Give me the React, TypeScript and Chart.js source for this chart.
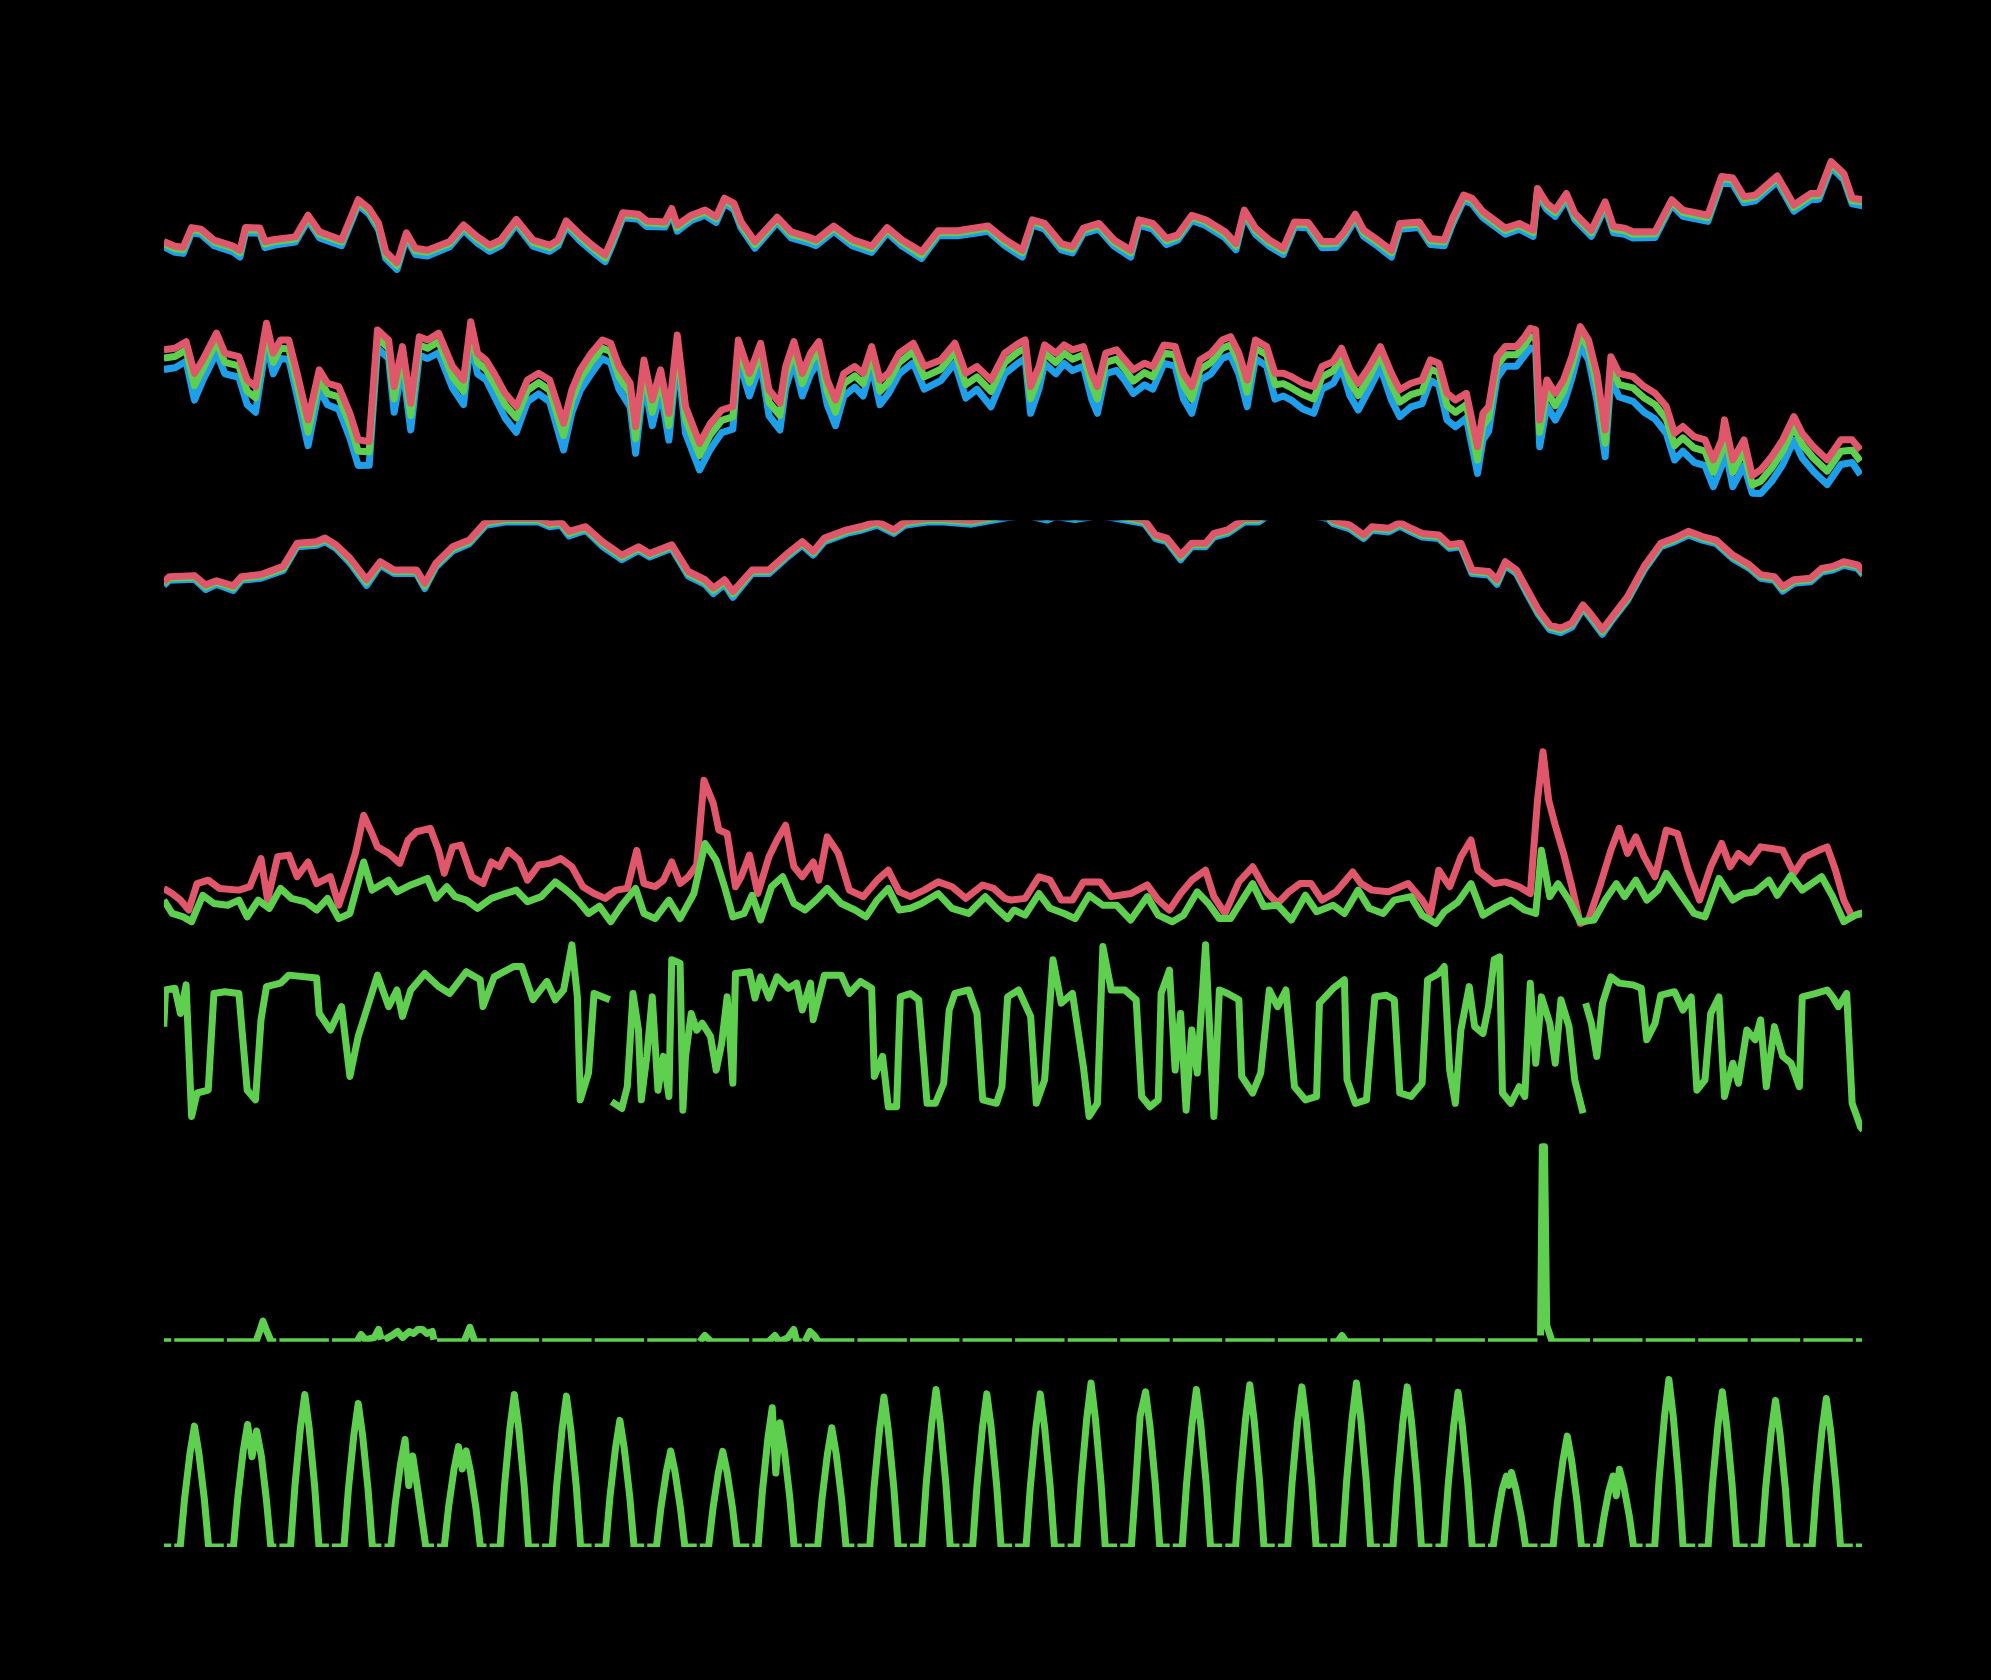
import React, { useEffect, useRef } from 'react';
import { Chart, registerables } from 'chart.js';

Chart.register(...registerables);

// ---------- Temperature (°C): high / average / low ----------
const tempHours = [
  -4.1, 1.0, 4.8, 8.6, 12.9, 18.8, 27.6, 30.7, 33.2, 39.8,
  42.1, 46.6, 56.0, 61.8, 67.0, 77.1, 84.7, 89.7, 94.0, 97.3,
  102.4, 106.7, 110.8, 116.3, 126.5, 132.8, 139.2, 144.7, 149.8, 156.9,
  164.5, 172.1, 176.0, 179.7, 186.1, 192.4, 197.5, 200.5, 205.6, 212.7,
  216.5, 224.8, 227.9, 230.4, 236.8, 243.1, 248.2, 252.0, 256.3, 259.6,
  265.9, 276.0, 282.4, 290.0, 293.8, 301.9, 310.3, 319.2, 326.3, 333.1,
  342.0, 349.6, 358.4, 372.4, 380.0, 388.0, 392.6, 398.2, 405.8, 410.9,
  415.9, 423.0, 429.9, 437.5, 441.3, 447.6, 453.9, 459.0, 465.4, 471.7,
  480.6, 485.6, 489.4, 494.5, 500.8, 507.2, 512.3, 518.6, 524.9, 531.3,
  535.1, 540.1, 543.9, 550.3, 556.6, 560.4, 569.3, 574.4, 580.7, 584.5,
  589.6, 593.4, 598.4, 603.5, 608.6, 614.9, 621.3, 623.3, 627.6, 631.4,
  636.5, 640.3, 647.9, 654.2, 658.0, 663.1, 666.9, 677.0, 684.6, 689.7,
  701.1, 707.4, 712.5, 717.6, 722.7, 732.8, 740.4, 748.0, 751.8, 757.4,
  763.2, 767.0, 772.0,
];
const tempHigh = [
  13.7, 12.8, 12.6, 16.4, 16.1, 14.0, 12.8, 12.0, 16.4, 16.3,
  13.7, 14.1, 14.6, 18.8, 15.6, 14.0, 21.8, 20.1, 17.2, 11.7,
  9.6, 15.4, 12.4, 12.0, 13.7, 16.9, 14.6, 13.0, 14.0, 18.0,
  14.0, 13.0, 14.0, 17.7, 15.0, 12.7, 11.1, 14.0, 19.3, 19.0,
  17.7, 17.5, 20.1, 16.9, 18.8, 19.8, 18.5, 22.1, 21.1, 17.5,
  13.7, 18.4, 15.6, 14.6, 14.0, 16.7, 14.1, 12.8, 16.4, 14.0,
  11.7, 15.8, 15.8, 16.7, 14.1, 12.0, 17.9, 17.2, 13.3, 12.7,
  16.3, 17.2, 14.0, 12.0, 17.9, 17.2, 14.3, 15.0, 18.8, 17.9,
  15.6, 13.3, 19.8, 16.3, 14.0, 12.4, 17.5, 17.4, 13.7, 13.7,
  15.6, 19.0, 15.9, 14.0, 12.0, 17.2, 17.5, 14.3, 14.0, 18.2,
  22.7, 22.1, 19.5, 17.9, 16.3, 17.2, 15.9, 24.0, 21.1, 19.8,
  23.0, 19.2, 15.9, 21.4, 16.6, 16.3, 15.6, 15.6, 21.8, 19.8,
  18.8, 26.3, 26.0, 22.4, 22.7, 26.4, 20.8, 23.0, 23.0, 29.2,
  26.9, 22.1, 21.8,
];
const tempAvg = [
  13.3, 12.3, 12.1, 16.0, 15.7, 13.6, 12.4, 11.5, 16.0, 15.9,
  13.2, 13.7, 14.2, 18.4, 15.1, 13.6, 21.4, 19.6, 16.7, 11.1,
  9.0, 15.0, 11.9, 11.6, 13.3, 16.5, 14.1, 12.5, 13.6, 17.6,
  13.5, 12.5, 13.6, 17.3, 14.5, 12.2, 10.5, 13.5, 18.9, 18.6,
  17.3, 17.1, 19.7, 16.4, 18.4, 19.4, 18.1, 21.7, 20.6, 17.0,
  13.1, 18.0, 15.1, 14.2, 13.6, 16.3, 13.6, 12.3, 16.0, 13.5,
  11.1, 15.4, 15.4, 16.3, 13.6, 11.5, 17.5, 16.8, 12.8, 12.2,
  15.9, 16.8, 13.5, 11.5, 17.5, 16.8, 13.8, 14.6, 18.4, 17.5,
  15.1, 12.8, 19.4, 15.8, 13.5, 11.9, 17.1, 17.0, 13.2, 13.3,
  15.2, 18.6, 15.4, 13.5, 11.5, 16.8, 17.1, 13.8, 13.6, 17.8,
  22.3, 21.7, 19.0, 17.4, 15.8, 16.8, 15.4, 23.5, 20.6, 19.3,
  22.6, 18.7, 15.4, 21.0, 16.1, 15.8, 15.1, 15.2, 21.4, 19.3,
  18.3, 25.9, 25.6, 21.9, 22.3, 26.0, 20.3, 22.5, 22.6, 28.8,
  26.4, 21.6, 21.4,
];
const tempLow = [
  12.7, 11.6, 11.4, 15.4, 15.1, 12.9, 11.7, 10.7, 15.4, 15.3,
  12.5, 13.0, 13.6, 17.8, 14.4, 12.9, 20.8, 19.0, 16.0, 10.4,
  8.3, 14.4, 11.2, 10.9, 12.7, 15.9, 13.4, 11.8, 12.9, 17.0,
  12.8, 11.8, 12.9, 16.7, 13.8, 11.5, 9.8, 12.8, 18.3, 18.0,
  16.6, 16.5, 19.1, 15.7, 17.8, 18.8, 17.4, 21.1, 19.9, 16.3,
  12.4, 17.4, 14.4, 13.5, 12.9, 15.7, 12.9, 11.6, 15.4, 12.8,
  10.4, 14.8, 14.8, 15.7, 12.9, 10.7, 16.9, 16.1, 12.1, 11.5,
  15.3, 16.1, 12.8, 10.7, 16.9, 16.1, 13.1, 14.0, 17.8, 16.8,
  14.4, 12.1, 18.8, 15.1, 12.8, 11.2, 16.5, 16.3, 12.5, 12.6,
  14.5, 18.0, 14.7, 12.8, 10.7, 16.1, 16.4, 13.1, 12.9, 17.1,
  21.7, 21.0, 18.3, 16.7, 15.1, 16.1, 14.7, 22.8, 19.9, 18.6,
  21.9, 18.0, 14.7, 20.3, 15.4, 15.1, 14.4, 14.5, 20.8, 18.6,
  17.6, 25.2, 24.8, 21.2, 21.6, 25.3, 19.6, 21.8, 21.9, 28.1,
  25.7, 21.0, 20.6,
];

// ---------- Humidity (%): high / average / low ----------
const humHours = [
  -4.1, 1.0, 6.1, 9.9, 13.7, 20.0, 23.8, 30.2, 34.0, 37.8,
  42.8, 45.9, 49.2, 53.0, 56.8, 61.8, 66.9, 70.7, 75.8, 80.9,
  84.7, 89.7, 93.5, 98.6, 101.1, 104.9, 108.7, 112.6, 116.4, 121.4,
  127.8, 132.8, 136.1, 139.2, 143.0, 146.8, 151.8, 156.9, 162.0, 167.1,
  172.1, 178.5, 182.3, 186.1, 191.1, 196.2, 200.0, 203.8, 208.9, 211.4,
  215.2, 219.0, 222.8, 226.6, 230.4, 234.2, 240.6, 245.6, 250.7, 255.8,
  258.3, 263.4, 268.5, 272.3, 277.3, 279.9, 283.7, 287.5, 291.3, 295.1,
  298.9, 302.7, 306.5, 311.5, 315.3, 319.2, 323.0, 326.8, 331.8, 338.2,
  343.2, 350.8, 357.2, 362.2, 367.3, 373.7, 380.0, 386.3, 389.3, 391.8,
  395.6, 398.2, 403.3, 407.1, 410.9, 415.9, 419.7, 422.3, 426.1, 431.1,
  434.9, 438.7, 443.8, 447.6, 452.7, 457.8, 461.6, 465.4, 469.2, 474.2,
  479.3, 483.1, 486.9, 490.7, 494.5, 499.6, 503.4, 507.2, 511.0, 516.1,
  521.1, 524.9, 530.0, 533.8, 537.6, 541.4, 546.5, 551.5, 556.6, 560.4,
  565.5, 570.6, 574.4, 578.2, 582.0, 585.8, 590.8, 595.9, 598.4, 601.0,
  604.8, 608.6, 613.7, 617.5, 620.0, 622.5, 624.3, 627.6, 631.4, 635.2,
  639.0, 642.8, 646.6, 650.4, 654.2, 656.8, 660.6, 666.9, 672.0, 677.0,
  682.1, 685.9, 689.7, 694.8, 699.8, 703.6, 707.4, 708.7, 712.5, 717.6,
  721.4, 725.2, 730.3, 735.3, 740.4, 744.2, 749.3, 755.6, 761.9, 767.0,
  770.8,
];
const humHigh = [
  81.6, 82.4, 85.6, 70.2, 76.7, 89.7, 80.0, 78.3, 67.0, 63.8,
  94.5, 80.0, 86.4, 86.4, 70.2, 47.6, 71.9, 65.4, 63.8, 50.8,
  37.9, 37.1, 91.3, 86.4, 63.8, 83.2, 55.7, 88.0, 86.4, 89.7,
  73.5, 67.0, 95.3, 80.0, 76.7, 70.2, 60.5, 54.1, 67.0, 70.2,
  67.0, 46.0, 62.2, 71.9, 80.0, 86.4, 84.8, 73.5, 65.4, 44.4,
  76.7, 57.3, 71.9, 50.8, 88.8, 54.1, 36.3, 46.0, 52.4, 54.1,
  86.4, 70.2, 84.8, 62.2, 55.7, 73.5, 85.6, 70.2, 80.0, 85.6,
  67.0, 57.3, 70.2, 73.5, 70.2, 83.2, 67.0, 70.2, 80.0, 84.8,
  73.5, 76.7, 84.8, 70.2, 73.5, 67.0, 80.0, 84.8, 86.4, 63.8,
  73.5, 84.0, 80.0, 84.0, 81.6, 83.2, 70.2, 63.8, 80.0, 81.6,
  76.7, 71.9, 75.1, 73.5, 84.0, 83.2, 70.2, 63.8, 76.7, 80.0,
  86.4, 88.0, 80.0, 67.0, 86.4, 83.2, 70.2, 70.2, 68.6, 65.4,
  63.8, 73.5, 75.9, 82.4, 71.9, 65.4, 73.5, 83.2, 70.2, 62.2,
  65.4, 67.0, 76.7, 75.1, 60.5, 57.3, 60.5, 34.6, 50.8, 54.1,
  78.3, 83.2, 83.2, 88.0, 92.1, 91.3, 47.6, 67.0, 60.5, 67.0,
  78.3, 92.9, 86.4, 70.2, 42.7, 78.3, 70.2, 68.6, 63.8, 60.5,
  54.1, 41.1, 44.4, 39.5, 37.9, 28.2, 37.9, 47.6, 28.2, 37.9,
  20.5, 23.3, 29.8, 37.9, 49.2, 41.1, 34.6, 28.2, 37.9, 37.9,
  33.0,
];
const humAvg = [
  77.6, 78.4, 81.6, 64.2, 72.2, 85.7, 75.5, 73.8, 61.5, 58.3,
  90.5, 75.5, 82.4, 82.0, 65.2, 41.6, 67.4, 60.4, 58.8, 45.3,
  32.4, 32.1, 87.3, 82.4, 57.8, 79.2, 49.7, 84.0, 82.4, 85.7,
  68.5, 61.5, 91.3, 75.5, 72.2, 65.2, 55.0, 48.6, 62.0, 65.7,
  62.0, 40.0, 57.2, 67.4, 75.5, 82.4, 80.8, 68.5, 60.4, 38.4,
  72.2, 51.3, 67.4, 44.8, 84.8, 48.1, 30.3, 40.5, 47.4, 49.1,
  82.4, 65.7, 80.8, 56.2, 49.7, 69.0, 81.6, 65.2, 75.5, 81.6,
  61.5, 51.3, 65.2, 69.0, 65.2, 79.2, 61.5, 65.7, 75.5, 80.8,
  68.5, 72.2, 80.8, 64.7, 68.5, 61.5, 75.5, 80.8, 82.4, 57.8,
  68.5, 80.0, 75.5, 80.0, 77.1, 79.2, 64.7, 57.8, 75.5, 77.1,
  72.2, 66.4, 70.6, 68.5, 80.0, 79.2, 64.7, 57.8, 72.2, 75.5,
  82.4, 84.0, 75.5, 61.0, 82.4, 79.2, 64.7, 65.2, 63.1, 59.9,
  57.8, 68.5, 71.4, 78.4, 66.4, 59.4, 68.5, 79.2, 64.7, 56.2,
  59.9, 61.5, 72.2, 70.6, 54.5, 51.3, 55.0, 28.1, 44.8, 48.6,
  73.8, 79.2, 79.2, 84.0, 88.1, 87.3, 41.6, 61.5, 54.5, 61.5,
  73.8, 88.9, 82.4, 64.7, 36.2, 73.8, 64.7, 63.1, 58.3, 55.0,
  48.1, 35.1, 38.9, 34.0, 32.4, 22.2, 32.4, 42.1, 22.2, 32.4,
  16.0, 17.8, 24.3, 32.4, 44.2, 35.6, 29.1, 22.7, 32.4, 32.9,
  27.5,
];
const humLow = [
  72.1, 72.9, 76.1, 57.2, 66.7, 80.2, 70.0, 68.3, 55.0, 51.3,
  85.0, 70.0, 77.4, 76.9, 59.2, 35.1, 62.4, 54.9, 52.8, 38.8,
  25.4, 25.6, 82.3, 77.4, 51.3, 73.7, 42.7, 79.0, 77.4, 80.2,
  63.0, 55.0, 86.3, 70.0, 67.2, 59.2, 48.5, 41.6, 56.5, 60.2,
  56.5, 33.0, 51.2, 61.9, 70.0, 77.4, 75.3, 62.5, 53.9, 31.4,
  66.7, 44.8, 61.9, 37.8, 79.3, 41.1, 23.3, 33.5, 41.4, 43.1,
  77.4, 59.2, 75.3, 49.7, 42.7, 63.0, 76.1, 59.2, 70.0, 76.1,
  55.0, 44.8, 59.2, 63.5, 59.2, 73.7, 55.0, 60.2, 70.0, 75.3,
  62.5, 66.7, 75.3, 58.2, 62.5, 54.0, 70.0, 75.3, 77.4, 50.8,
  62.5, 75.0, 70.0, 75.0, 71.6, 73.7, 57.7, 50.8, 70.0, 71.6,
  66.7, 60.4, 64.6, 62.5, 75.0, 73.7, 57.7, 50.8, 66.7, 70.0,
  77.4, 79.0, 70.0, 54.0, 77.4, 73.7, 57.7, 59.2, 57.1, 52.9,
  50.8, 62.5, 65.4, 72.9, 59.4, 52.4, 62.5, 73.2, 57.2, 49.2,
  53.9, 55.5, 66.7, 64.6, 47.5, 44.3, 48.5, 21.6, 37.8, 42.1,
  67.8, 73.7, 73.7, 79.0, 82.6, 81.3, 34.6, 54.5, 47.5, 55.0,
  67.8, 83.4, 76.9, 57.2, 29.7, 67.3, 58.7, 56.6, 51.3, 48.0,
  41.1, 28.1, 32.4, 27.0, 25.4, 15.2, 25.4, 35.1, 15.2, 25.4,
  12.0, 11.8, 17.8, 25.9, 37.7, 29.1, 22.6, 16.2, 25.9, 26.9,
  21.0,
];

// ---------- Pressure (hPa): high / average / low ----------
const presHours = [
  -4.1, -1.5, 9.9, 15.0, 20.0, 27.6, 31.4, 40.3, 50.4, 56.8,
  65.7, 69.5, 74.5, 80.9, 88.5, 94.8, 101.1, 111.3, 115.1, 120.2,
  127.8, 135.4, 143.0, 151.8, 167.1, 172.1, 177.2, 181.0, 188.6, 196.2,
  205.1, 212.7, 217.8, 227.9, 235.5, 243.1, 246.9, 252.0, 255.8, 264.6,
  272.3, 279.9, 287.5, 292.5, 297.6, 307.8, 314.1, 321.7, 329.3, 334.4,
  344.5, 352.1, 364.8, 381.3, 390.0, 399.4, 403.3, 412.1, 423.5, 436.2,
  443.8, 448.9, 454.0, 460.3, 465.4, 471.7, 475.5, 481.8, 489.4, 495.8,
  499.6, 514.8, 527.5, 530.0, 537.6, 543.9, 547.7, 555.3, 560.4, 565.5,
  570.6, 578.2, 583.2, 588.3, 593.4, 601.0, 604.8, 608.6, 613.7, 618.7,
  623.8, 628.9, 633.9, 639.0, 644.1, 647.9, 652.9, 656.8, 664.4, 672.0,
  679.6, 685.9, 692.2, 698.6, 704.9, 712.5, 720.1, 725.2, 731.5, 735.3,
  740.4, 748.0, 753.1, 758.1, 763.2, 769.5, 772.0,
];
const presHigh = [
  1017.6, 1018.6, 1018.8, 1017.0, 1017.8, 1016.8, 1018.6, 1019.0, 1020.6, 1025.1,
  1025.4, 1026.1, 1024.8, 1022.2, 1018.0, 1021.5, 1019.9, 1019.9, 1017.3, 1021.2,
  1024.4, 1025.7, 1029.3, 1029.9, 1029.9, 1029.0, 1029.3, 1027.4, 1028.3, 1025.4,
  1022.8, 1024.4, 1023.1, 1024.8, 1019.6, 1018.0, 1016.4, 1018.0, 1015.7, 1019.9,
  1019.9, 1022.8, 1025.4, 1023.5, 1026.1, 1027.7, 1028.3, 1029.3, 1027.7, 1029.3,
  1029.9, 1029.9, 1029.5, 1030.8, 1031.2, 1030.4, 1031.0, 1030.4, 1031.2, 1030.2,
  1029.6, 1026.7, 1026.1, 1022.8, 1025.1, 1025.1, 1027.0, 1027.7, 1029.9, 1029.9,
  1031.0, 1031.6, 1030.6, 1029.6, 1028.6, 1026.7, 1028.3, 1028.0, 1029.1, 1028.0,
  1027.0, 1026.7, 1024.8, 1025.1, 1019.9, 1019.6, 1018.0, 1021.5, 1019.9, 1016.0,
  1012.1, 1009.2, 1008.6, 1009.6, 1013.1, 1011.2, 1008.3, 1010.5, 1014.7, 1020.6,
  1025.1, 1026.1, 1027.4, 1026.4, 1025.7, 1022.8, 1020.9, 1019.0, 1018.6, 1016.7,
  1018.0, 1018.3, 1020.2, 1020.6, 1021.5, 1020.9, 1019.6,
];
const presAvg = [
  1017.3, 1018.3, 1018.5, 1016.6, 1017.5, 1016.4, 1018.3, 1018.7, 1020.2, 1024.8,
  1025.1, 1025.8, 1024.5, 1021.8, 1017.5, 1021.2, 1019.6, 1019.6, 1016.8, 1020.9,
  1024.0, 1025.4, 1029.0, 1029.6, 1029.6, 1028.7, 1029.0, 1027.0, 1028.0, 1025.0,
  1022.4, 1024.1, 1022.8, 1024.5, 1019.2, 1017.6, 1015.9, 1017.6, 1015.2, 1019.6,
  1019.6, 1022.5, 1025.1, 1023.2, 1025.8, 1027.4, 1028.0, 1029.0, 1027.4, 1029.0,
  1029.6, 1029.6, 1029.2, 1030.5, 1030.9, 1030.1, 1030.7, 1030.1, 1030.9, 1029.9,
  1029.3, 1026.4, 1025.8, 1022.4, 1024.8, 1024.8, 1026.7, 1027.4, 1029.6, 1029.6,
  1030.7, 1031.3, 1030.3, 1029.3, 1028.3, 1026.4, 1028.0, 1027.7, 1028.8, 1027.7,
  1026.7, 1026.4, 1024.5, 1024.8, 1019.6, 1019.3, 1017.6, 1021.2, 1019.6, 1015.6,
  1011.7, 1008.8, 1008.2, 1009.3, 1012.8, 1010.8, 1007.9, 1010.2, 1014.4, 1020.3,
  1024.8, 1025.8, 1027.1, 1026.1, 1025.4, 1022.5, 1020.6, 1018.7, 1018.3, 1016.3,
  1017.7, 1018.0, 1019.9, 1020.3, 1021.2, 1020.6, 1019.3,
];
const presLow = [
  1016.9, 1017.9, 1018.1, 1016.1, 1017.1, 1015.9, 1017.9, 1018.3, 1019.8, 1024.4,
  1024.7, 1025.4, 1024.1, 1021.3, 1016.9, 1020.8, 1019.2, 1019.2, 1016.3, 1020.5,
  1023.6, 1025.0, 1028.6, 1029.2, 1029.2, 1028.3, 1028.6, 1026.5, 1027.6, 1024.5,
  1021.9, 1023.7, 1022.4, 1024.1, 1018.7, 1017.1, 1015.3, 1017.1, 1014.6, 1019.2,
  1019.2, 1022.1, 1024.7, 1022.8, 1025.4, 1027.0, 1027.6, 1028.6, 1027.0, 1028.6,
  1029.2, 1029.2, 1028.8, 1030.1, 1030.5, 1029.6, 1030.3, 1029.7, 1030.5, 1029.5,
  1028.9, 1026.0, 1025.4, 1021.9, 1024.4, 1024.4, 1026.3, 1027.0, 1029.2, 1029.2,
  1030.3, 1030.9, 1029.9, 1028.9, 1027.9, 1026.0, 1027.6, 1027.3, 1028.4, 1027.3,
  1026.3, 1026.0, 1024.1, 1024.4, 1019.2, 1018.9, 1017.1, 1020.8, 1019.2, 1015.1,
  1011.2, 1008.3, 1007.7, 1008.8, 1012.4, 1010.3, 1007.4, 1009.8, 1014.0, 1019.9,
  1024.4, 1025.4, 1026.7, 1025.7, 1025.0, 1022.1, 1020.2, 1018.3, 1017.9, 1015.8,
  1017.3, 1017.6, 1019.5, 1019.9, 1020.8, 1020.2, 1018.9,
];

// ---------- Wind (km/h): gust and average ----------
const gustHours = [
  -4.1, -0.3, 3.5, 7.3, 11.1, 16.2, 21.3, 30.2, 35.2, 40.3,
  43.3, 47.9, 53.0, 56.8, 61.8, 65.7, 72.0, 75.8, 79.6, 83.4,
  87.2, 91.0, 93.5, 98.6, 103.7, 107.5, 111.3, 117.6, 121.4, 124.0,
  127.8, 131.6, 136.6, 141.7, 145.5, 149.3, 153.1, 158.2, 162.0, 167.1,
  172.1, 177.2, 182.3, 187.3, 192.4, 197.5, 202.5, 207.6, 211.9, 215.2,
  220.3, 224.1, 227.9, 231.7, 235.5, 239.3, 242.6, 246.9, 249.4, 253.2,
  257.0, 259.6, 263.4, 267.2, 272.3, 276.0, 279.9, 283.7, 287.5, 292.5,
  295.1, 298.9, 304.0, 309.0, 315.3, 321.7, 326.8, 331.8, 336.9, 343.2,
  349.6, 355.9, 362.2, 369.9, 374.9, 380.0, 383.0, 389.3, 395.6, 400.7,
  405.8, 410.9, 415.9, 423.5, 428.6, 437.5, 445.1, 450.1, 455.2, 460.3,
  465.4, 471.7, 475.5, 480.6, 486.9, 493.2, 499.6, 504.6, 509.7, 514.8,
  519.9, 524.9, 531.3, 538.9, 542.7, 547.7, 555.3, 564.2, 570.6, 574.4,
  578.2, 583.2, 588.3, 592.9, 596.0, 599.7, 603.5, 608.6, 614.9, 620.0,
  623.3, 625.8, 628.4, 631.4, 635.2, 639.0, 642.8, 646.6, 651.7, 656.8,
  660.6, 664.4, 668.2, 672.0, 677.0, 682.1, 687.2, 692.2, 697.3, 702.4,
  707.4, 711.3, 715.1, 720.1, 725.2, 730.3, 735.3, 740.4, 745.5, 751.8,
  755.6, 759.4, 763.2, 767.0, 770.3, 772.0,
];
const gust = [
  12.1, 10.6, 8.7, 5.8, 13.5, 14.5, 12.1, 11.6, 12.6, 20.8,
  8.7, 21.3, 21.8, 15.5, 19.8, 13.5, 15.5, 7.2, 14.5, 22.3,
  33.4, 28.1, 24.2, 22.3, 19.4, 26.2, 28.6, 29.6, 23.2, 16.5,
  24.2, 24.7, 15.5, 13.5, 19.8, 18.4, 23.2, 20.3, 14.5, 18.9,
  19.4, 20.8, 18.4, 12.6, 10.6, 9.2, 11.6, 12.1, 23.2, 13.5,
  12.6, 14.5, 19.8, 13.5, 15.5, 18.9, 43.6, 36.8, 29.1, 28.1,
  12.6, 15.5, 21.8, 10.6, 21.3, 26.2, 30.5, 18.4, 15.5, 19.8,
  14.5, 27.1, 22.3, 11.6, 9.7, 14.5, 17.4, 11.1, 9.7, 11.6,
  14.0, 12.6, 9.2, 13.1, 12.1, 9.2, 8.7, 9.2, 15.5, 14.5,
  8.7, 8.7, 14.0, 14.0, 9.7, 10.6, 13.1, 8.7, 5.8, 10.6,
  14.5, 17.4, 9.7, 4.8, 14.0, 18.4, 11.1, 7.7, 11.1, 13.5,
  13.5, 8.7, 11.1, 16.9, 13.5, 11.6, 11.1, 13.5, 8.7, 4.8,
  17.4, 12.6, 21.3, 26.2, 17.4, 15.5, 13.5, 14.0, 12.6, 10.6,
  37.8, 51.9, 37.8, 30.5, 22.3, 12.6, 1.9, 2.9, 12.6, 23.2,
  29.6, 22.3, 27.1, 21.3, 15.5, 29.1, 28.1, 17.4, 8.7, 18.4,
  25.2, 18.4, 22.3, 19.8, 24.2, 23.7, 23.2, 16.5, 21.3, 23.2,
  24.2, 17.4, 8.7, 3.8, 4.8, 5.0,
];
const windAvgHours = [
  -4.1, -0.3, 4.8, 8.6, 13.7, 18.8, 25.1, 30.2, 34.0, 39.0,
  44.1, 49.2, 54.2, 60.6, 65.7, 70.7, 75.8, 80.9, 87.2, 91.0,
  98.6, 102.4, 108.7, 116.3, 120.2, 125.2, 129.0, 134.1, 139.2, 145.5,
  151.8, 156.9, 162.0, 168.3, 174.7, 179.7, 184.8, 189.9, 194.9, 200.0,
  205.1, 211.4, 215.2, 220.3, 226.6, 231.7, 238.0, 243.1, 248.2, 252.0,
  255.8, 260.9, 264.6, 268.5, 273.5, 278.6, 283.7, 288.8, 293.8, 298.9,
  305.3, 311.6, 316.6, 321.7, 326.8, 331.8, 336.9, 341.9, 349.6, 355.9,
  363.5, 371.1, 376.2, 381.3, 384.2, 389.3, 395.6, 400.7, 407.1, 412.1,
  418.5, 424.8, 431.1, 437.5, 445.1, 450.1, 456.5, 461.6, 467.9, 473.0,
  478.0, 483.1, 493.2, 498.3, 504.6, 510.9, 517.3, 522.4, 530.0, 535.1,
  541.4, 546.5, 552.8, 557.9, 565.5, 570.6, 576.9, 580.7, 587.0, 592.9,
  598.4, 604.8, 611.1, 617.5, 622.5, 625.1, 628.9, 632.7, 637.7, 642.8,
  649.1, 654.2, 659.3, 663.1, 668.2, 673.2, 678.3, 682.1, 688.4, 694.8,
  699.8, 706.2, 712.5, 717.6, 722.7, 729.0, 732.8, 739.1, 744.2, 753.1,
  758.1, 763.2, 768.3, 772.0,
];
const windAvg = [
  8.7, 4.8, 3.8, 2.4, 10.1, 7.7, 7.2, 8.7, 3.8, 8.7,
  6.3, 12.1, 9.2, 8.2, 5.8, 9.2, 3.3, 4.8, 19.8, 11.6,
  14.5, 11.1, 13.1, 15.0, 9.2, 12.6, 9.7, 8.7, 6.3, 9.2,
  10.6, 11.6, 8.2, 9.7, 14.0, 11.6, 8.7, 4.8, 6.9, 2.4,
  7.2, 12.1, 4.8, 3.3, 8.7, 3.3, 10.6, 25.2, 20.3, 12.6,
  3.8, 4.8, 10.1, 2.9, 12.6, 15.5, 7.7, 5.8, 8.7, 12.1,
  7.7, 5.8, 3.8, 8.7, 12.1, 5.8, 6.3, 7.7, 10.6, 6.3,
  4.8, 9.7, 6.3, 3.3, 5.8, 4.3, 10.6, 6.3, 4.8, 3.3,
  10.1, 7.2, 7.2, 2.9, 9.7, 4.3, 2.4, 4.3, 11.1, 7.7,
  3.3, 3.3, 13.5, 6.8, 7.2, 2.9, 10.1, 5.3, 7.2, 4.8,
  11.6, 6.3, 4.8, 8.7, 9.7, 4.3, 1.9, 5.3, 8.2, 13.5,
  4.3, 6.8, 8.7, 5.8, 4.8, 23.2, 9.7, 13.5, 8.7, 2.4,
  2.9, 8.7, 13.5, 9.7, 14.5, 8.7, 11.6, 16.5, 10.6, 4.8,
  3.8, 15.0, 8.7, 10.6, 11.1, 14.5, 10.1, 15.9, 11.6, 15.5,
  9.7, 2.4, 4.3, 4.8,
];

// ---------- Wind direction (°), null = missing ----------
const dirHours = [
  -4.1, -3.3, 1.0, 3.5, 6.1, 8.6, 11.1, 16.2, 18.8, 23.8,
  30.2, 34.0, 37.8, 40.3, 42.8, 49.2, 53.0, 65.7, 66.9, 72.0,
  77.1, 80.9, 84.7, 88.5, 93.5, 98.6, 102.4, 104.9, 108.7, 115.1,
  121.4, 126.5, 134.1, 140.4, 141.7, 146.8, 155.6, 159.4, 164.5, 170.9,
  174.7, 178.5, 182.3, 184.8, 186.1, 189.9, 192.4, 199.6, 200.0, 200.4,
  205.1, 207.6, 210.2, 212.7, 214.0, 216.5, 219.0, 221.6, 224.1, 226.6,
  227.9, 231.7, 233.0, 234.2, 236.8, 239.3, 241.8, 245.6, 248.2, 250.7,
  253.2, 255.8, 257.0, 263.4, 265.9, 268.5, 272.3, 276.0, 281.1, 284.9,
  287.5, 291.3, 292.5, 297.6, 305.3, 309.0, 314.1, 319.2, 320.4, 324.2,
  326.8, 330.6, 332.3, 336.9, 340.7, 344.5, 348.3, 352.1, 354.6, 357.2,
  363.5, 367.3, 369.9, 376.2, 378.7, 381.3, 386.3, 391.8, 394.4, 398.2,
  402.0, 405.8, 410.9, 415.9, 418.5, 422.3, 424.8, 428.6, 434.9, 440.0,
  442.5, 446.3, 450.1, 451.4, 455.2, 457.8, 460.3, 462.8, 465.4, 467.9,
  471.7, 475.5, 478.0, 481.8, 486.9, 488.2, 493.2, 496.9, 500.8, 504.6,
  508.4, 512.3, 517.3, 522.4, 523.7, 530.0, 535.1, 536.3, 540.1, 545.2,
  549.0, 554.1, 557.9, 560.4, 565.5, 570.6, 573.1, 578.2, 580.7, 583.2,
  585.8, 588.3, 592.1, 594.6, 598.4, 600.9, 603.5, 606.0, 607.3, 611.1,
  614.9, 617.5, 620.0, 622.5, 625.1, 628.9, 631.4, 634.0, 637.7, 640.3,
  644.1, 644.7, 645.3, 647.9, 650.4, 653.0, 656.8, 660.6, 666.9, 670.7,
  673.2, 677.0, 679.6, 685.9, 689.7, 693.5, 696.1, 699.8, 702.4, 706.2,
  708.7, 712.5, 715.1, 718.9, 722.7, 725.2, 727.8, 731.5, 735.3, 739.1,
  742.9, 744.2, 750.5, 755.6, 758.1, 760.7, 764.5, 767.0, 770.8, 772.0,
];
const windDir = [
  191, 255, 258, 214, 264, 34, 75, 80, 249, 252,
  249, 80, 63, 203, 261, 267, 281, 276, 214, 185,
  226, 104, 174, 220, 281, 226, 255, 209, 255, 284,
  261, 249, 287, 273, 226, 278, 296, 296, 238, 270,
  238, 255, 334, 243, 63, 110, 249, 238, null, 60,
  48, 86, 249, 185, 63, 139, 243, 80, 139, 69,
  308, 302, 45, 139, 214, 185, 197, 174, 115, 162,
  243, 92, 284, 287, 241, 278, 241, 278, 258, 267,
  220, 267, 203, 281, 281, 249, 270, 258, 104, 139,
  51, 51, 243, 249, 238, 57, 57, 92, 220, 249,
  255, 214, 63, 57, 86, 243, 255, 209, 57, 98,
  308, 232, 249, 121, 34, 57, 331, 255, 255, 238,
  69, 51, 63, 249, 290, 115, 214, 45, 185, 110,
  334, 34, 255, 249, 238, 104, 75, 110, 255, 226,
  255, 86, 63, 69, 232, 258, 273, 98, 57, 63,
  243, 246, 238, 75, 69, 92, 273, 284, 296, 115,
  57, 185, 261, 191, 179, 226, 308, 313, 75, 57,
  86, 69, 267, 127, 243, 197, 127, 238, 191, 98,
  40, null, 232, 197, 139, 232, 278, 267, 264, 258,
  168, 197, 246, 252, 220, 243, 80, 98, 214, 243,
  69, 127, 92, 185, 168, 203, 86, 191, 139, 127,
  86, 243, 249, 255, 243, 226, 249, 57, 16, 10,
];

// ---------- Rain (mm), null = missing reading at midnight ----------
const rainHours = [
  -4, -0.7, 0, 0.7,
  23.3, 24, 24.7,
  38, 40, 41.2, 43, 45,
  47.3, 48, 48.7,
  71.3, 72, 72.7,
  84, 86, 88, 92, 94, 95.3, 96, 96.7, 100, 102.7, 105, 108, 110, 112, 114, 116, 118.5, 119.3, 120, 120.7,
  133, 135.7, 138,
  143.3, 144, 144.7,
  167.3, 168, 168.7,
  191.3, 192, 192.7,
  215.3, 216, 216.7,
  239.3, 240, 240.7, 243, 246,
  263.3, 264, 264.7,
  272, 275, 277, 281, 283.6, 285, 287.3, 288, 288.7, 291, 293, 295,
  311.3, 312, 312.7,
  335.3, 336, 336.7,
  359.3, 360, 360.7,
  383.3, 384, 384.7,
  407.3, 408, 408.7,
  431.3, 432, 432.7,
  455.3, 456, 456.7,
  479.3, 480, 480.7,
  503.3, 504, 504.7,
  527.3, 528, 528.7, 532, 534, 536,
  551.3, 552, 552.7,
  575.3, 576, 576.7,
  599.3, 600, 600.7,
  622, 623.3, 624, 624.7, 625.5, 626.5, 627.5, 630,
  647.3, 648, 648.7,
  671.3, 672, 672.7,
  695.3, 696, 696.7,
  719.3, 720, 720.7,
  743.3, 744, 744.7,
  767.3, 768, 768.7,
  772,
];
const rain = [
  0, 0, null, 0,
  0, null, 0,
  0, 0.6, 1.0, 0.5, 0,
  0, null, 0,
  0, null, 0,
  0, 0.35, 0.1, 0.2, 0.6, 0.1, null, 0.1, 0.3, 0.5, 0.2, 0.5, 0.4, 0.6, 0.6, 0.4, 0.5, 0.1, null, 0,
  0, 0.7, 0,
  0, null, 0,
  0, null, 0,
  0, null, 0,
  0, null, 0,
  0, null, 0, 0.3, 0,
  0, null, 0,
  0, 0.3, 0, 0.2, 0.6, 0, 0, null, 0, 0.5, 0.3, 0,
  0, null, 0,
  0, null, 0,
  0, null, 0,
  0, null, 0,
  0, null, 0,
  0, null, 0,
  0, null, 0,
  0, null, 0,
  0, null, 0,
  0, null, 0, 0, 0.3, 0,
  0, null, 0,
  0, null, 0,
  0, null, 0,
  0, 0, null, 0.3, 9.5, 9.5, 0.8, 0,
  0, null, 0,
  0, null, 0,
  0, null, 0,
  0, null, 0,
  0, null, 0,
  0, null, 0,
  0,
];

// ---------- Solar radiation (W/m²), null = missing reading at midnight ----------
const solarHours = [
  -4, -0.7, 0, 0.7,
  3.4, 5.4, 7.9, 9.9, 11.9, 14.4, 16.4,
  23.3, 24, 24.7,
  27.7, 29.7, 32.2, 34.2, 36.2, 38.3, 40.5, 42.8, 44.8,
  47.3, 48, 48.7,
  53.8, 55.8, 58.3, 60.3, 62.3, 64.8, 66.8,
  71.3, 72, 72.7,
  78.2, 80.2, 82.7, 84.7, 86.7, 89.2, 91.2,
  95.3, 96, 96.7,
  99.6, 101.6, 104.1, 106.1, 107.8, 109.6, 111.6, 113.6, 115.6,
  119.3, 120, 120.7,
  124, 126, 128.5, 130.5, 132.2, 134, 136, 138.5, 140.5,
  143.3, 144, 144.7,
  149.5, 151.5, 154, 156, 158, 160.5, 162.5,
  167.3, 168, 168.7,
  173.3, 175.3, 177.8, 179.8, 181.8, 184.3, 186.3,
  191.3, 192, 192.7,
  197.7, 199.7, 202.2, 204.2, 206.2, 208.7, 210.7,
  215.3, 216, 216.7,
  220.9, 222.9, 225.4, 227.4, 229.4, 231.9, 233.9,
  239.3, 240, 240.7,
  244.7, 246.7, 249.2, 251.2, 253.2, 255.7, 257.7,
  263.3, 264, 264.7,
  267.3, 269.3, 271.8, 273.8, 275.4, 277.3, 279.3, 281.8, 283.8,
  287.3, 288, 288.7,
  294.5, 296.5, 299, 301, 303, 305.5, 307.5,
  311.3, 312, 312.7,
  318.3, 320.3, 322.8, 324.8, 326.8, 329.3, 331.3,
  335.3, 336, 336.7,
  342.1, 344.1, 346.6, 348.6, 350.6, 353.1, 355.1,
  359.3, 360, 360.7,
  365.3, 367.3, 369.8, 371.8, 373.8, 376.3, 378.3,
  383.3, 384, 384.7,
  389.7, 391.7, 394.2, 396.2, 398.2, 400.7, 402.7,
  407.3, 408, 408.7,
  412.9, 414.9, 417.4, 419.4, 421.4, 423.9, 425.9,
  431.3, 432, 432.7,
  437.8, 439.8, 441.8, 444.3, 446.3, 448.8, 450.8,
  455.3, 456, 456.7,
  461, 463, 465.5, 467.5, 469.5, 472, 474,
  479.3, 480, 480.7,
  485.4, 487.4, 489.9, 491.9, 493.9, 496.4, 498.4,
  503.3, 504, 504.7,
  509.2, 511.2, 513.7, 515.7, 517.7, 520.2, 522.2,
  527.3, 528, 528.7,
  534.1, 536.1, 538.6, 540.6, 542.6, 545.1, 547.1,
  551.3, 552, 552.7,
  557.3, 559.3, 561.8, 563.8, 565.8, 568.3, 570.3,
  575.3, 576, 576.7,
  580.5, 582.5, 585, 587, 589, 591.5, 593.5,
  599.3, 600, 600.7,
  603, 605, 607.2, 609.1, 610.2, 611.4, 613.4, 615.9, 617.9,
  623.3, 624, 624.7,
  630.4, 632.4, 634.9, 636.9, 638.9, 641.4, 643.4,
  647.3, 648, 648.7,
  651.5, 653.5, 655.8, 657.8, 659.3, 660.7, 662.7, 665.2, 667.2,
  671.3, 672, 672.7,
  676.8, 678.8, 681.3, 683.3, 685.3, 687.8, 689.8,
  695.3, 696, 696.7,
  701.2, 703.2, 705.7, 707.7, 709.7, 712.2, 714.2,
  719.3, 720, 720.7,
  725.5, 727.5, 730, 732, 734, 736.5, 738.5,
  743.3, 744, 744.7,
  748.7, 750.7, 753.2, 755.2, 757.2, 759.7, 761.7,
  767.3, 768, 768.7,
  772,
];
const solar = [
  0, 0, null, 0,
  0, 236, 459, 589, 459, 236, 0,
  0, null, 0,
  0, 240, 470, 597, 440, 565, 440, 226, 0,
  0, null, 0,
  0, 297, 580, 743, 580, 297, 0,
  0, null, 0,
  0, 280, 545, 699, 545, 280, 0,
  0, null, 0,
  0, 210, 409, 524, 300, 443, 300, 150, 0,
  0, null, 0,
  0, 196, 381, 489, 380, 468, 365, 187, 0,
  0, null, 0,
  0, 297, 580, 743, 580, 297, 0,
  0, null, 0,
  0, 294, 573, 735, 573, 294, 0,
  0, null, 0,
  0, 247, 481, 617, 481, 247, 0,
  0, null, 0,
  0, 187, 365, 468, 365, 187, 0,
  0, null, 0,
  0, 186, 363, 466, 363, 186, 0,
  0, null, 0,
  0, 271, 529, 678, 360, 605, 472, 242, 0,
  0, null, 0,
  0, 232, 453, 581, 453, 232, 0,
  0, null, 0,
  0, 292, 570, 731, 570, 292, 0,
  0, null, 0,
  0, 307, 598, 767, 598, 307, 0,
  0, null, 0,
  0, 298, 582, 746, 582, 298, 0,
  0, null, 0,
  0, 298, 582, 746, 582, 298, 0,
  0, null, 0,
  0, 320, 623, 799, 623, 320, 0,
  0, null, 0,
  0, 302, 637, 756, 590, 302, 0,
  0, null, 0,
  0, 307, 598, 767, 598, 307, 0,
  0, null, 0,
  0, 316, 616, 790, 616, 316, 0,
  0, null, 0,
  0, 312, 608, 780, 608, 312, 0,
  0, null, 0,
  0, 320, 623, 799, 623, 320, 0,
  0, null, 0,
  0, 312, 608, 780, 608, 312, 0,
  0, null, 0,
  0, 302, 588, 754, 588, 302, 0,
  0, null, 0,
  0, 145, 280, 346, 300, 363, 283, 145, 0,
  0, null, 0,
  0, 216, 421, 540, 421, 216, 0,
  0, null, 0,
  0, 138, 270, 346, 250, 379, 296, 152, 0,
  0, null, 0,
  0, 326, 636, 816, 636, 326, 0,
  0, null, 0,
  0, 302, 590, 756, 590, 302, 0,
  0, null, 0,
  0, 286, 557, 714, 557, 286, 0,
  0, null, 0,
  0, 289, 564, 723, 564, 289, 0,
  0, null, 0,
  0,
];

const RED = '#e0566b';
const GREEN = '#5fcf4f';
const BLUE = '#1f9fe9';
const LINE_WIDTH = 7;

function toPoints(hours: number[], values: (number | null)[]) {
  return hours.map((x, i) => ({ x, y: values[i] }));
}

function line(data: any, color: string, axis: string) {
  return {
    data,
    yAxisID: axis,
    xAxisID: 'x',
    borderColor: color,
    backgroundColor: color,
    borderWidth: LINE_WIDTH,
    borderJoinStyle: 'round' as const,
    borderCapStyle: 'butt' as const,
    pointRadius: 0,
    pointHoverRadius: 0,
    tension: 0,
    fill: false,
    spanGaps: false,
  };
}

function panel(min: number, max: number) {
  return {
    type: 'linear' as const,
    position: 'left' as const,
    stack: 'panels',
    stackWeight: 1,
    min,
    max,
    display: false,
  };
}

const background = {
  id: 'blackBackground',
  beforeDraw(chart: any) {
    const ctx = chart.ctx;
    ctx.save();
    ctx.fillStyle = '#000000';
    ctx.fillRect(0, 0, chart.width, chart.height);
    ctx.restore();
  },
};

export default function App() {
  const canvasRef = useRef<HTMLCanvasElement>(null);

  useEffect(() => {
    document.body.style.margin = '0';
    document.body.style.background = '#000000';
    const canvas = canvasRef.current;
    if (!canvas) return;
    const chart = new Chart(canvas, {
      type: 'line',
      data: {
        datasets: [
          line(toPoints(tempHours, tempHigh), RED, 'yTemp'),
          line(toPoints(tempHours, tempAvg), GREEN, 'yTemp'),
          line(toPoints(tempHours, tempLow), BLUE, 'yTemp'),
          line(toPoints(humHours, humHigh), RED, 'yHum'),
          line(toPoints(humHours, humAvg), GREEN, 'yHum'),
          line(toPoints(humHours, humLow), BLUE, 'yHum'),
          line(toPoints(presHours, presHigh), RED, 'yPres'),
          line(toPoints(presHours, presAvg), GREEN, 'yPres'),
          line(toPoints(presHours, presLow), BLUE, 'yPres'),
          line(toPoints(windAvgHours, windAvg), GREEN, 'yWind'),
          line(toPoints(gustHours, gust), RED, 'yWind'),
          line(toPoints(dirHours, windDir), GREEN, 'yDir'),
          line(toPoints(rainHours, rain), GREEN, 'yRain'),
          line(toPoints(solarHours, solar), GREEN, 'ySolar'),
        ],
      },
      options: {
        animation: false,
        responsive: false,
        maintainAspectRatio: false,
        devicePixelRatio: 1,
        events: [],
        layout: { padding: { left: 164, top: 110, right: 129, bottom: 133 } },
        plugins: {
          legend: { display: false },
          tooltip: { enabled: false },
          title: { display: false },
        },
        scales: {
          x: { type: 'linear', min: -4, max: 771.5, display: false },
          ySolar: panel(0, 1000),
          yRain: panel(0, 10),
          yDir: panel(-0.9, 357.9),
          yWind: panel(-0.35, 59.45),
          yPres: panel(989.6, 1029.5),
          yHum: panel(-1.3, 98.4),
          yTemp: panel(-0.6, 39.2),
        },
      } as any,
      plugins: [background],
    });
    return () => chart.destroy();
  }, []);

  return (
    <canvas
      ref={canvasRef}
      width={1991}
      height={1680}
      style={{ display: 'block', width: '1991px', height: '1680px', background: '#000' }}
    />
  );
}
